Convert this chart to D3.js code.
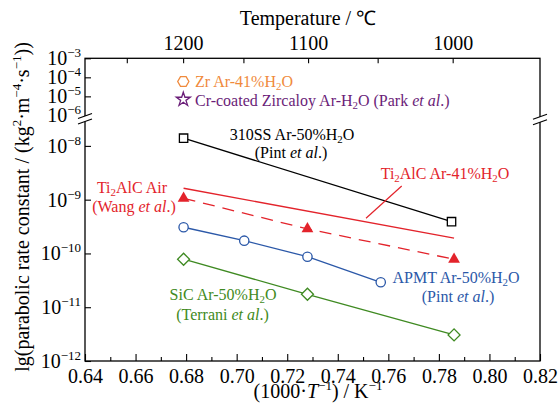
<!DOCTYPE html>
<html><head><meta charset="utf-8">
<script src="https://cdn.jsdelivr.net/npm/d3@7"></script>
<style>html,body{margin:0;padding:0;background:#fff}svg{display:block}</style>
</head><body>
<svg id="c" width="560" height="417"></svg>
<script>
// ---------- data ----------
const xMajorTicks = [0.64,0.66,0.68,0.70,0.72,0.74,0.76,0.78,0.80,0.82];
const xMinorTicks = [0.65,0.67,0.69,0.71,0.73,0.75,0.77,0.79,0.81];
const tempTicks = [1250,1200,1150,1100,1050,1000];
const tempLabels = [1200,1100,1000];
const yLowTicks = [-12,-11,-10,-9,-8];
const yHighTicks = [-6,-5,-4,-3];

const ss310X = [0.679, 0.785];
const ss310Y = [1.39e-8, 3.9e-10];
const tiSteamX = [0.679, 0.786];
const tiSteamY = [1.63e-9, 1.92e-10];
const tiAirX = [0.679, 0.728, 0.786];
const tiAirY = [1.06e-9, 2.86e-10, 7.8e-11];
const apmtX = [0.679, 0.703, 0.728, 0.757];
const apmtY = [3.07e-10, 1.73e-10, 8.7e-11, 2.91e-11];
const sicX = [0.679, 0.728, 0.786];
const sicY = [7.8e-11, 1.74e-11, 3.05e-12];

// ---------- setup ----------
const FONT = 'Liberation Serif';
const C = {black:'#000', red:'#e3232b', blue:'#2b58a8', green:'#3f8a22', orange:'#f08a3c', purple:'#6a1d78'};
const svg = d3.select('#c');
const L = 85, R = 540, T = 58.3, B = 361, BRK = 119;

const x = d3.scaleLinear().domain([0.64, 0.82]).range([L, R]);
const yLow = d3.scaleLog().domain([1e-12, Math.pow(10,-7.5)]).range([B, BRK]);
const yHigh = d3.scaleLog().domain([Math.pow(10,-6.19), 1e-3]).range([BRK, T]);

function rich(g, px, py, parts, opts) {
  const t = g.append('text').attr('x', px).attr('y', py)
    .attr('font-size', opts.size || 16).attr('fill', opts.color || '#000')
    .attr('text-anchor', opts.anchor || 'middle');
  if (opts.rotate) t.attr('transform', `rotate(${opts.rotate},${px},${py})`);
  let shift = 0;
  parts.forEach(p => {
    if (typeof p === 'string') p = {t: p};
    const target = p.sub ? 3 : p.sup ? -(opts.supShift || 8) : 0;
    const ts = t.append('tspan').text(p.t).attr('dy', target - shift);
    shift = target;
    if (p.sub || p.sup) ts.attr('font-size', (opts.size || 16) * (p.sub ? 0.68 : 0.65));
    if (p.it) ts.style('font-style', 'italic');
  });
  return t;
}

// ---------- axes ----------
const gx = svg.append('g').attr('transform', `translate(0,${B})`)
  .call(d3.axisBottom(x).tickValues(xMajorTicks).tickSize(-7).tickPadding(7.8).tickFormat(d3.format('.2f')));
gx.selectAll('text').attr('font-size', 20).attr('fill', '#000');
const gxm = svg.append('g').attr('transform', `translate(0,${B})`)
  .call(d3.axisBottom(x).tickValues(xMinorTicks).tickSize(-4).tickFormat(''));

const gt = svg.append('g').attr('transform', `translate(0,${T})`)
  .call(d3.axisTop(x).tickValues(tempTicks.map(t => 1000 / (t + 273.15))).tickSize(-5).tickPadding(8)
    .tickFormat((d, i) => tempLabels.includes(tempTicks[i]) ? String(tempTicks[i]) : ''));
gt.selectAll('text').attr('font-size', 20).attr('fill', '#000');

function yAxis(scale, ticks) {
  const g = svg.append('g').attr('transform', `translate(${L},0)`)
    .call(d3.axisLeft(scale).tickValues(ticks.map(e => Math.pow(10, e))).tickSize(-6).tickFormat(''));
  g.selectAll('.tick').each(function(d, i) {
    rich(d3.select(this), -4, 6.5, ['10', {t: '\u2212' + Math.abs(ticks[i]), sup: true}],
      {size: 20, anchor: 'end', supShift: 8});
  });
  return g;
}
const gyl = yAxis(yLow, yLowTicks);
const gyh = yAxis(yHigh, yHighTicks);
[gx, gxm, gt, gyl, gyh].forEach(g => {
  g.select('.domain').remove();
  g.attr('font-family', null);
  g.selectAll('line').attr('stroke', '#000').attr('stroke-width', 1.1);
});

// frame
svg.append('rect').attr('x', L).attr('y', T).attr('width', R - L).attr('height', B - T)
  .attr('fill', 'none').attr('stroke', '#000').attr('stroke-width', 1.3);

// axis breaks
[L, R].forEach(ax => {
  const cy = ax === L ? 118.8 : 119.6;
  svg.append('polygon')
    .attr('points', `${ax-7},${cy-0.3} ${ax+7},${cy-5.3} ${ax+7},${cy+0.2} ${ax-7},${cy+5.2}`)
    .attr('fill', '#fff');
  [-0.3, 5.2].forEach(o => {
    svg.append('line').attr('x1', ax - 7).attr('y1', cy + o).attr('x2', ax + 7).attr('y2', cy + o - 5)
      .attr('stroke', '#000').attr('stroke-width', 1.2);
  });
});

// ---------- series ----------
const plot = svg.append('g');
function series(xs, ys, color, dash) {
  const pts = xs.map((v, i) => [x(v), yLow(ys[i])]);
  plot.append('path').attr('d', d3.line()(pts)).attr('fill', 'none')
    .attr('stroke', color).attr('stroke-width', 1.3).attr('stroke-dasharray', dash || null);
  return pts;
}
function markers(pts, type, size, color, filled, rot) {
  plot.selectAll(null).data(pts).enter().append('path')
    .attr('d', d3.symbol().type(type).size(size))
    .attr('transform', d => `translate(${d[0]},${d[1]})` + (rot ? ` rotate(${rot})` : ''))
    .attr('fill', filled ? color : '#fff').attr('stroke', color).attr('stroke-width', filled ? 0 : 1.3);
}
const pSS = series(ss310X, ss310Y, C.black);
const pTiS = series(tiSteamX, tiSteamY, C.red);
const pTiA = series(tiAirX, tiAirY, C.red, '12,8');
const pAP = series(apmtX, apmtY, C.blue);
const pSiC = series(sicX, sicY, C.green);
markers(pSS, d3.symbolSquare, 70, C.black, false);
markers(pTiA, d3.symbolTriangle, 60, C.red, true);
markers(pAP, d3.symbolCircle, 68, C.blue, false);
markers(pSiC, d3.symbolSquare, 72, C.green, false, 45);

// leader line for Ti2AlC Ar-41%H2O
svg.append('line').attr('x1', 401.7).attr('y1', 186).attr('x2', 366).attr('y2', 218.3)
  .attr('stroke', C.red).attr('stroke-width', 1.2);

// ---------- labels ----------
const lab = svg.append('g');
rich(lab, 292, 140, ['310SS Ar-50%H', {t:'2', sub:true}, 'O'], {color: C.black});
rich(lab, 291, 158, ['(Pint ', {t:'et al', it:true}, '.)'], {color: C.black});
rich(lab, 445, 179, ['Ti', {t:'2', sub:true}, 'AlC Ar-41%H', {t:'2', sub:true}, 'O'], {color: C.red});
rich(lab, 132, 193, ['Ti', {t:'2', sub:true}, 'AlC Air'], {color: C.red});
rich(lab, 134, 211.5, ['(Wang ', {t:'et al', it:true}, '.)'], {color: C.red});
rich(lab, 456, 283, ['APMT Ar-50%H', {t:'2', sub:true}, 'O'], {color: C.blue});
rich(lab, 458, 301.5, ['(Pint ', {t:'et al', it:true}, '.)'], {color: C.blue});
rich(lab, 223, 300, ['SiC Ar-50%H', {t:'2', sub:true}, 'O'], {color: C.green});
rich(lab, 222.5, 320, ['(Terrani ', {t:'et al', it:true}, '.)'], {color: C.green});
rich(lab, 195, 87, ['Zr Ar-41%H', {t:'2', sub:true}, 'O'], {color: C.orange, anchor: 'start'});
rich(lab, 195, 105.5, ['Cr-coated Zircaloy Ar-H', {t:'2', sub:true}, 'O (Park ', {t:'et al', it:true}, '.)'], {color: C.purple, anchor: 'start'});

// legend symbols
const hx = 183.3, hy = 81.5, hr = 5.6;
const hex = d3.range(6).map(k => [hx + hr * Math.cos(k * Math.PI / 3), hy + hr * Math.sin(k * Math.PI / 3)]);
svg.append('path').attr('d', d3.line()(hex) + 'Z').attr('fill', 'none').attr('stroke', C.orange).attr('stroke-width', 1.3);
svg.append('path').attr('d', d3.symbol().type(d3.symbolStar).size(60)).attr('transform', 'translate(183.3,99.5)')
  .attr('fill', 'none').attr('stroke', C.purple).attr('stroke-width', 1.3);

// axis titles
rich(svg, 308, 25, ['Temperature / \u2103'], {size: 20});
rich(svg, 318, 398, ['(1000\u00b7', {t:'T', it:true}, {t:'\u22121', sup:true}, ') / K', {t:'\u22121', sup:true}], {size: 20, supShift: 8});
rich(svg, 29, 207, ['lg(parabolic rate constant / (kg', {t:'2', sup:true}, '\u00b7m', {t:'\u22124', sup:true}, '\u00b7s', {t:'\u22121', sup:true}, '))'], {size: 20, rotate: -90, supShift: 8});

// apply font directly to every text and tspan
svg.selectAll('text, tspan').style('font-family', FONT);
</script>
</body></html>
